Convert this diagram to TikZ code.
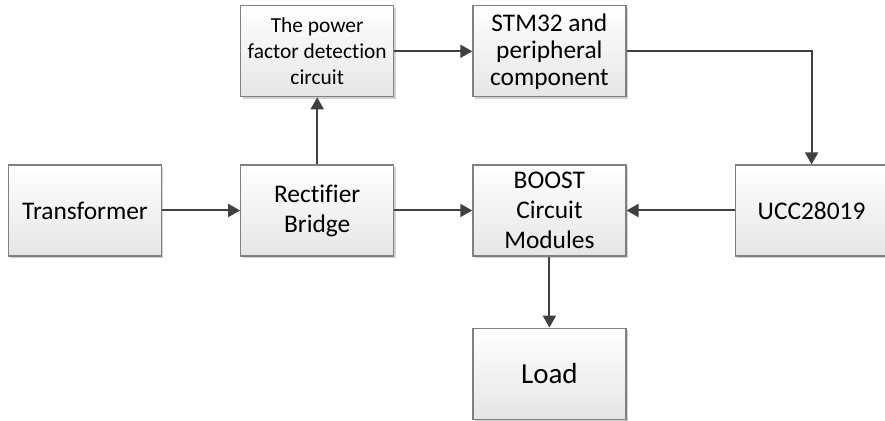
\documentclass[tikz,border=0pt]{standalone}
\usepackage{fontspec}
\setmainfont[Ligatures=NoCommon]{Carlito}
\usepackage{tikz}
\usetikzlibrary{arrows.meta, positioning, shadows}
\definecolor{boxline}{HTML}{808080}
\definecolor{wire}{HTML}{404040}

\begin{document}
\begin{tikzpicture}[
    node distance=33.5pt and 39pt,
    every node/.style={font=\fontsize{12.7}{15}\selectfont},
    block/.style={rectangle, draw=boxline, line width=0.6pt,
                  top color=white, bottom color=black!10,
                  minimum width=76.5pt, minimum height=45.5pt,
                  align=center, inner sep=1pt,
                  drop shadow={shadow xshift=1pt, shadow yshift=-1pt,
                               fill=black!30, opacity=0.6}},
    arrow/.style={-{Triangle[length=6pt, width=6.5pt]}, line width=1pt,
                  color=wire}
]

\useasboundingbox (-42.5pt,105.25pt) rectangle (400pt,-105.25pt);

% Main power path
\node[block] (trans) {Transformer};
\node[block, right=of trans] (rect) {Rectifier\\Bridge};
\node[block, right=of rect] (boost) {BOOST\\Circuit\\Modules};
\node[block, right=54pt of boost] (ucc) {UCC28019};
\node[block, below=35.5pt of boost,
      font=\fontsize{14.5}{17}\selectfont] (load) {Load};

% Detection and control
\node[block, above=of rect,
      font=\fontsize{10.7}{13}\selectfont] (pfd)
    {The power\\factor detection\\circuit};
\node[block, above=of boost,
      font=\fontsize{12.7}{13.5}\selectfont] (stm)
    {STM32 and\\peripheral\\component};

\draw[arrow] (trans) -- (rect);
\draw[arrow] (rect)  -- (pfd);
\draw[arrow] (pfd)   -- (stm);
\draw[arrow] (stm)   -| (ucc);
\draw[arrow] (rect)  -- (boost);
\draw[arrow] (ucc)   -- (boost);
\draw[arrow] (boost) -- (load);

\end{tikzpicture}
\end{document}
